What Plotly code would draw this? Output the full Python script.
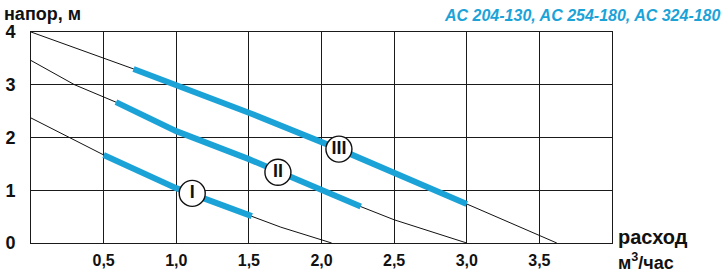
import plotly.graph_objects as go

# ---- data ----
curve_I_q = [0.0, 0.5, 1.0, 1.52, 1.72, 2.07]
curve_I_h = [2.37, 1.67, 1.04, 0.51, 0.30, 0.0]
curve_II_q = [0.0, 0.3, 0.585, 1.0, 1.5, 2.0, 2.27, 2.5, 3.0]
curve_II_h = [3.46, 3.0, 2.67, 2.12, 1.59, 0.99, 0.69, 0.44, 0.0]
curve_III_q = [0.0, 0.5, 0.706, 1.0, 1.5, 2.12, 2.5, 3.0, 3.62]
curve_III_h = [4.0, 3.51, 3.30, 2.99, 2.47, 1.78, 1.32, 0.74, 0.0]

# working (blue) ranges of each curve [q_from, q_to]
work_I = [0.5, 1.52]
work_II = [0.585, 2.27]
work_III = [0.706, 3.0]

label_names = ["I", "II", "III"]
label_q = [1.11, 1.70, 2.12]
label_h = [0.94, 1.34, 1.78]

x_tickvals = [0.5, 1.0, 1.5, 2.0, 2.5, 3.0, 3.5]
x_ticktext = ["0,5", "1,0", "1,5", "2,0", "2,5", "3,0", "3,5"]
y_tickvals = [0, 1, 2, 3, 4]
y_ticktext = ["0", "1", "2", "3", "4"]

title_text = "AC 204-130, AC 254-180, AC 324-180"
y_title = "напор, м"
x_title_1 = "расход"
x_title_2 = "м<sup>3</sup>/час"

BLUE = "#1ba3d8"
FONT = "Liberation Sans Narrow, Arial Narrow, Liberation Sans, sans-serif"
GRID = "#1a1a1a"

fig = go.Figure()

curves = [(curve_I_q, curve_I_h, work_I),
          (curve_II_q, curve_II_h, work_II),
          (curve_III_q, curve_III_h, work_III)]

for q, h, w in curves:
    fig.add_trace(go.Scatter(x=q, y=h, mode="lines",
                             line=dict(color="#111111", width=1),
                             hoverinfo="skip", showlegend=False))
for q, h, w in curves:
    sq = [a for a in q if w[0] <= a <= w[1]]
    sh = [b for a, b in zip(q, h) if w[0] <= a <= w[1]]
    fig.add_trace(go.Scatter(x=sq, y=sh, mode="lines",
                             line=dict(color=BLUE, width=6),
                             hoverinfo="skip", showlegend=False))

fig.add_trace(go.Scatter(
    x=label_q, y=label_h, mode="markers+text",
    text=["<b>" + t + "</b>" for t in label_names],
    textposition="middle center",
    textfont=dict(family=FONT, size=18, color="#111111"),
    marker=dict(symbol="circle", size=26, color="white",
                line=dict(color="#111111", width=1.4)),
    hoverinfo="skip", showlegend=False))

fig.update_layout(
    width=727, height=272,
    margin=dict(l=31, r=115, t=32, b=29),
    paper_bgcolor="white", plot_bgcolor="white",
    font=dict(family=FONT, color="#111111"),
    xaxis=dict(range=[0, 4], tickvals=x_tickvals, ticktext=x_ticktext,
               showgrid=True, gridcolor=GRID, gridwidth=1,
               showline=True, linecolor=GRID, linewidth=1, mirror=True,
               ticks="outside", ticklen=3, tickcolor="white",
               tickfont=dict(family=FONT, size=16, color="#111111", weight="bold"),
               zeroline=False, fixedrange=True, automargin=False),
    yaxis=dict(range=[0, 4], tickvals=y_tickvals, ticktext=y_ticktext,
               showgrid=True, gridcolor=GRID, gridwidth=1,
               showline=True, linecolor=GRID, linewidth=1, mirror=True,
               ticks="outside", ticklen=11, tickcolor="white",
               tickfont=dict(family=FONT, size=18, color="#111111", weight="bold"),
               zeroline=False, fixedrange=True, automargin=False),
    annotations=[
        dict(text=title_text, xref="paper", yref="paper", x=1.0, y=1.0,
             xanchor="right", yanchor="bottom", xshift=111, yshift=6, showarrow=False,
             font=dict(family="Liberation Sans, Arial, sans-serif", size=16, color=BLUE,
                       weight="bold", style="italic")),
        dict(text=y_title, xref="paper", yref="paper", x=0.0, y=1.0,
             xanchor="left", yanchor="bottom", xshift=-29, yshift=6, showarrow=False,
             font=dict(family=FONT, size=18, color="#111111", weight="bold")),
        dict(text=x_title_1, xref="paper", yref="paper", x=1.0, y=0.0,
             xanchor="left", yanchor="middle", xshift=4, yshift=6, showarrow=False,
             font=dict(family=FONT, size=20, color="#111111", weight="bold")),
        dict(text=x_title_2, xref="paper", yref="paper", x=1.0, y=0.0,
             xanchor="left", yanchor="middle", xshift=4, yshift=-18, showarrow=False,
             font=dict(family=FONT, size=18, color="#111111", weight="bold")),
    ],
)

fig.write_html("out.html", config={"displayModeBar": False},
               post_script="document.body.style.margin='0';document.body.style.padding='0';")
